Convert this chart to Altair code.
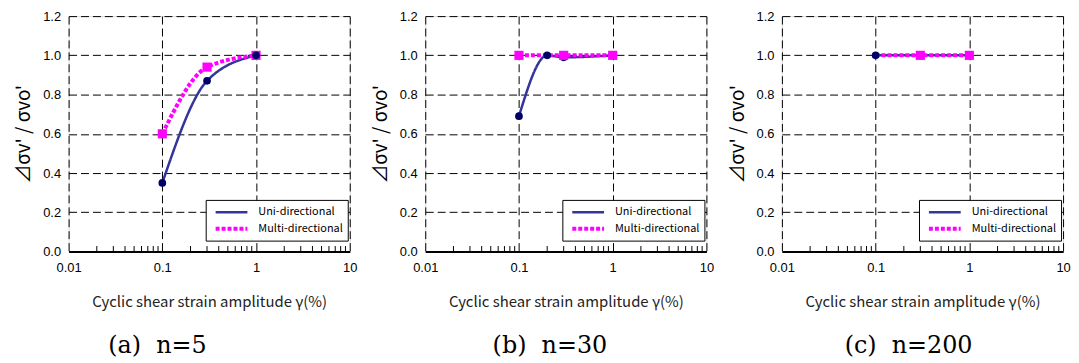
import altair as alt
import pandas as pd

# ---- data ----
series_names = ["Uni-directional", "Multi-directional"]

a_uni_x = [0.1, 0.3, 1.0]
a_uni_y = [0.35, 0.87, 1.0]
a_uni_marked = [1, 1, 1]
a_multi_x = [0.1, 0.3, 1.0]
a_multi_y = [0.60, 0.94, 1.0]
a_multi_marked = [1, 1, 1]

b_uni_x = [0.1, 0.2, 0.3, 1.0]
b_uni_y = [0.69, 1.0, 0.99, 1.0]
b_uni_marked = [1, 1, 1, 1]
b_multi_x = [0.1, 0.3, 1.0]
b_multi_y = [1.0, 1.0, 1.0]
b_multi_marked = [1, 1, 1]

c_uni_x = [0.1, 0.3, 1.0]
c_uni_y = [1.0, 1.0, 1.0]
c_uni_marked = [1, 0, 0]
c_multi_x = [0.1, 0.3, 1.0]
c_multi_y = [1.0, 1.0, 1.0]
c_multi_marked = [0, 1, 1]

NB = "\u00a0"
captions = ["(a)" + NB + NB + "n=5", "(b)" + NB + NB + "n=30", "(c)" + NB + NB + "n=200"]
caption_dx = [-52, -16, -14]
squares_on_top = [False, True, False]

x_ticks = [0.01, 0.1, 1, 10]
y_ticks = [0.0, 0.2, 0.4, 0.6, 0.8, 1.0, 1.2]
minor_ticks = [k * 10 ** e for e in (-2, -1, 0) for k in range(2, 10)]
minor_len = [0.0, 0.028]

UNI_LINE = "#343499"
UNI_MARK = "#000066"
MULTI = "#FF00FF"

W, H = 283, 237

x_scale = alt.Scale(type="log", domain=[0.01, 10])
y_scale = alt.Scale(domain=[0, 1.2], nice=False, zero=False)

legend = alt.Legend(
    title=None, orient="none", legendX=138, legendY=185,
    fillColor="white", strokeColor="black", padding=4,
    symbolType="M-0.43,0H4.14", symbolSize=196,
    labelFont="Noto Sans CJK JP", labelFontSize=11, labelColor="black",
    rowPadding=2, labelOffset=31,
)

x_axis = alt.Axis(
    values=x_ticks, format="~g", grid=True, gridDash=[8, 4], gridColor="black",
    gridOpacity=1, gridWidth=1, ticks=False, domainColor="black", domainWidth=2,
    labelFont="Liberation Sans", labelFontSize=13, labelColor="black",
    labelPadding=10, labelFlush=False, labelOverlap=False,
    title="Cyclic shear strain amplitude γ(%)", titleFont="Noto Sans CJK JP",
    titleFontSize=15, titleFontWeight="normal", titleColor="#222222",
    titlePadding=20)
y_axis = alt.Axis(
    values=y_ticks, tickCount=7, format=".1f", grid=True, gridDash=[8, 4], gridColor="black",
    gridOpacity=1, gridWidth=1, ticks=False, domain=False,
    labelFont="Liberation Sans", labelFontSize=13, labelColor="black",
    labelPadding=8, labelOverlap=False,
    title="⊿σv' / σvo'", titleFont="Noto Sans CJK JP", titleFontSize=19,
    titleFontWeight="normal", titleColor="black", titlePadding=9)


def panel(ux, uy, um, mx, my, mm, caption, dx, sq_top):
    df = pd.DataFrame(
        {"x": ux + mx,
         "y": uy + my,
         "m": um + mm,
         "s": [series_names[0]] * len(ux) + [series_names[1]] * len(mx)}
    )
    minor = pd.DataFrame({"x": minor_ticks, "y0": minor_len[0], "y1": minor_len[1]})

    X = alt.X("x:Q", scale=x_scale, axis=x_axis)
    Y = alt.Y("y:Q", scale=y_scale, axis=y_axis)

    dom = series_names
    lines = alt.Chart(df).mark_line(interpolate="monotone", strokeCap="butt").encode(
        x=X, y=Y,
        color=alt.Color("s:N", scale=alt.Scale(domain=dom, range=[UNI_LINE, MULTI]), legend=legend),
        strokeDash=alt.StrokeDash("s:N", scale=alt.Scale(domain=dom, range=[[1, 0], [4, 2]]), legend=legend),
        strokeWidth=alt.StrokeWidth("s:N", scale=alt.Scale(domain=dom, range=[2.5, 4]), legend=legend),
        order=alt.Order("x:Q"),
    )
    squares = alt.Chart(df).transform_filter(
        (alt.datum.s == series_names[1]) & (alt.datum.m == 1)).mark_point(
        shape="square", filled=True, size=85, color=MULTI, opacity=1).encode(x=X, y=Y)
    circles = alt.Chart(df).transform_filter(
        (alt.datum.s == series_names[0]) & (alt.datum.m == 1)).mark_point(
        shape="circle", filled=True, size=60, color=UNI_MARK, opacity=1).encode(x=X, y=Y)
    ticks = alt.Chart(minor).mark_rule(color="black", strokeWidth=1).encode(
        x=X, y=alt.Y("y0:Q", scale=y_scale, axis=y_axis), y2="y1:Q")

    marks = [circles, squares] if sq_top else [squares, circles]
    return alt.layer(lines, ticks, *marks).properties(
        width=W, height=H,
        title=alt.TitleParams(caption, orient="bottom", anchor="middle", frame="group",
                              dx=dx, offset=25, font="DejaVu Serif", fontSize=24,
                              fontWeight="normal", color="black"),
    )


pa = panel(a_uni_x, a_uni_y, a_uni_marked, a_multi_x, a_multi_y, a_multi_marked,
           captions[0], caption_dx[0], squares_on_top[0])
pb = panel(b_uni_x, b_uni_y, b_uni_marked, b_multi_x, b_multi_y, b_multi_marked,
           captions[1], caption_dx[1], squares_on_top[1])
pc = panel(c_uni_x, c_uni_y, c_uni_marked, c_multi_x, c_multi_y, c_multi_marked,
           captions[2], caption_dx[2], squares_on_top[2])

chart = alt.hconcat(pa, pb, pc, spacing=13).resolve_scale(
    color="independent", strokeDash="independent", strokeWidth="independent"
).resolve_legend(color="independent", strokeDash="independent", strokeWidth="independent"
).properties(padding={"left": 6, "top": 0, "right": 0, "bottom": 0}
).configure_view(stroke="black", strokeWidth=1).configure(background="white")

chart.save("out.html", embed_options={"renderer": "svg", "actions": False})
